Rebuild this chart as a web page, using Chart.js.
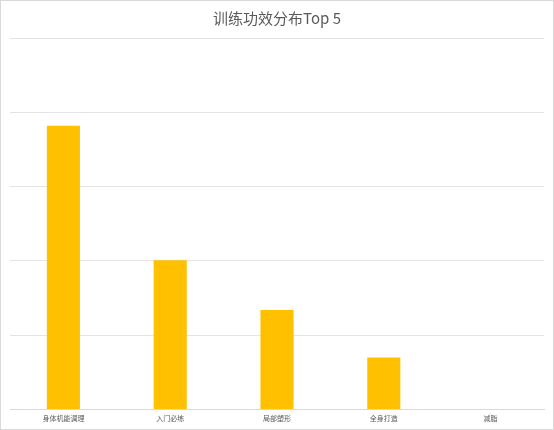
<!DOCTYPE html>
<html>
<head>
<meta charset="utf-8">
<script src="https://cdn.jsdelivr.net/npm/chart.js@4.4.0/dist/chart.umd.min.js"></script>
<style>
  html, body { margin: 0; padding: 0; background: #fff; }
  #wrap { position: relative; width: 552px; height: 428px; border: 1px solid #d9d9d9; }
</style>
</head>
<body>
<div id="wrap"><canvas id="chart"></canvas></div>
<script>
// chart data
const categories = ["身体机能调理", "入门必练", "局部塑形", "全身打造", "减脂"];
const values = [3.82, 2.01, 1.34, 0.7, 0];
const titleText = "训练功效分布Top 5";

const ctx = document.getElementById("chart").getContext("2d");
new Chart(ctx, {
    type: 'bar',
    data: {
        labels: categories,
        datasets: [{
            data: values,
            backgroundColor: '#FFC000',
            categoryPercentage: 1,
            barPercentage: 0.31
        }]
    },
    options: {
        responsive: true,
        maintainAspectRatio: false,
        animation: false,
        layout: { padding: { left: 9, right: 9, top: 0, bottom: 1 } },
        plugins: {
            legend: { display: false },
            tooltip: { enabled: false },
            title: {
                display: true,
                text: titleText,
                color: '#595959',
                font: { family: "'Noto Sans CJK SC', 'Noto Sans', sans-serif", size: 15, weight: 'normal' },
                padding: { top: 8, bottom: 11 }
            }
        },
        scales: {
            x: {
                grid: { display: false, drawTicks: false },
                border: { color: '#d9d9d9' },
                ticks: {
                    color: '#595959',
                    font: { family: "'Noto Sans CJK SC', sans-serif", size: 7 },
                    padding: 5,
                    maxRotation: 0
                }
            },
            y: {
                min: 0,
                max: 5,
                ticks: { display: false, stepSize: 1 },
                border: { display: false },
                grid: { color: '#e3e3e3', drawTicks: false }
            }
        }
    }
});
</script>
</body>
</html>
